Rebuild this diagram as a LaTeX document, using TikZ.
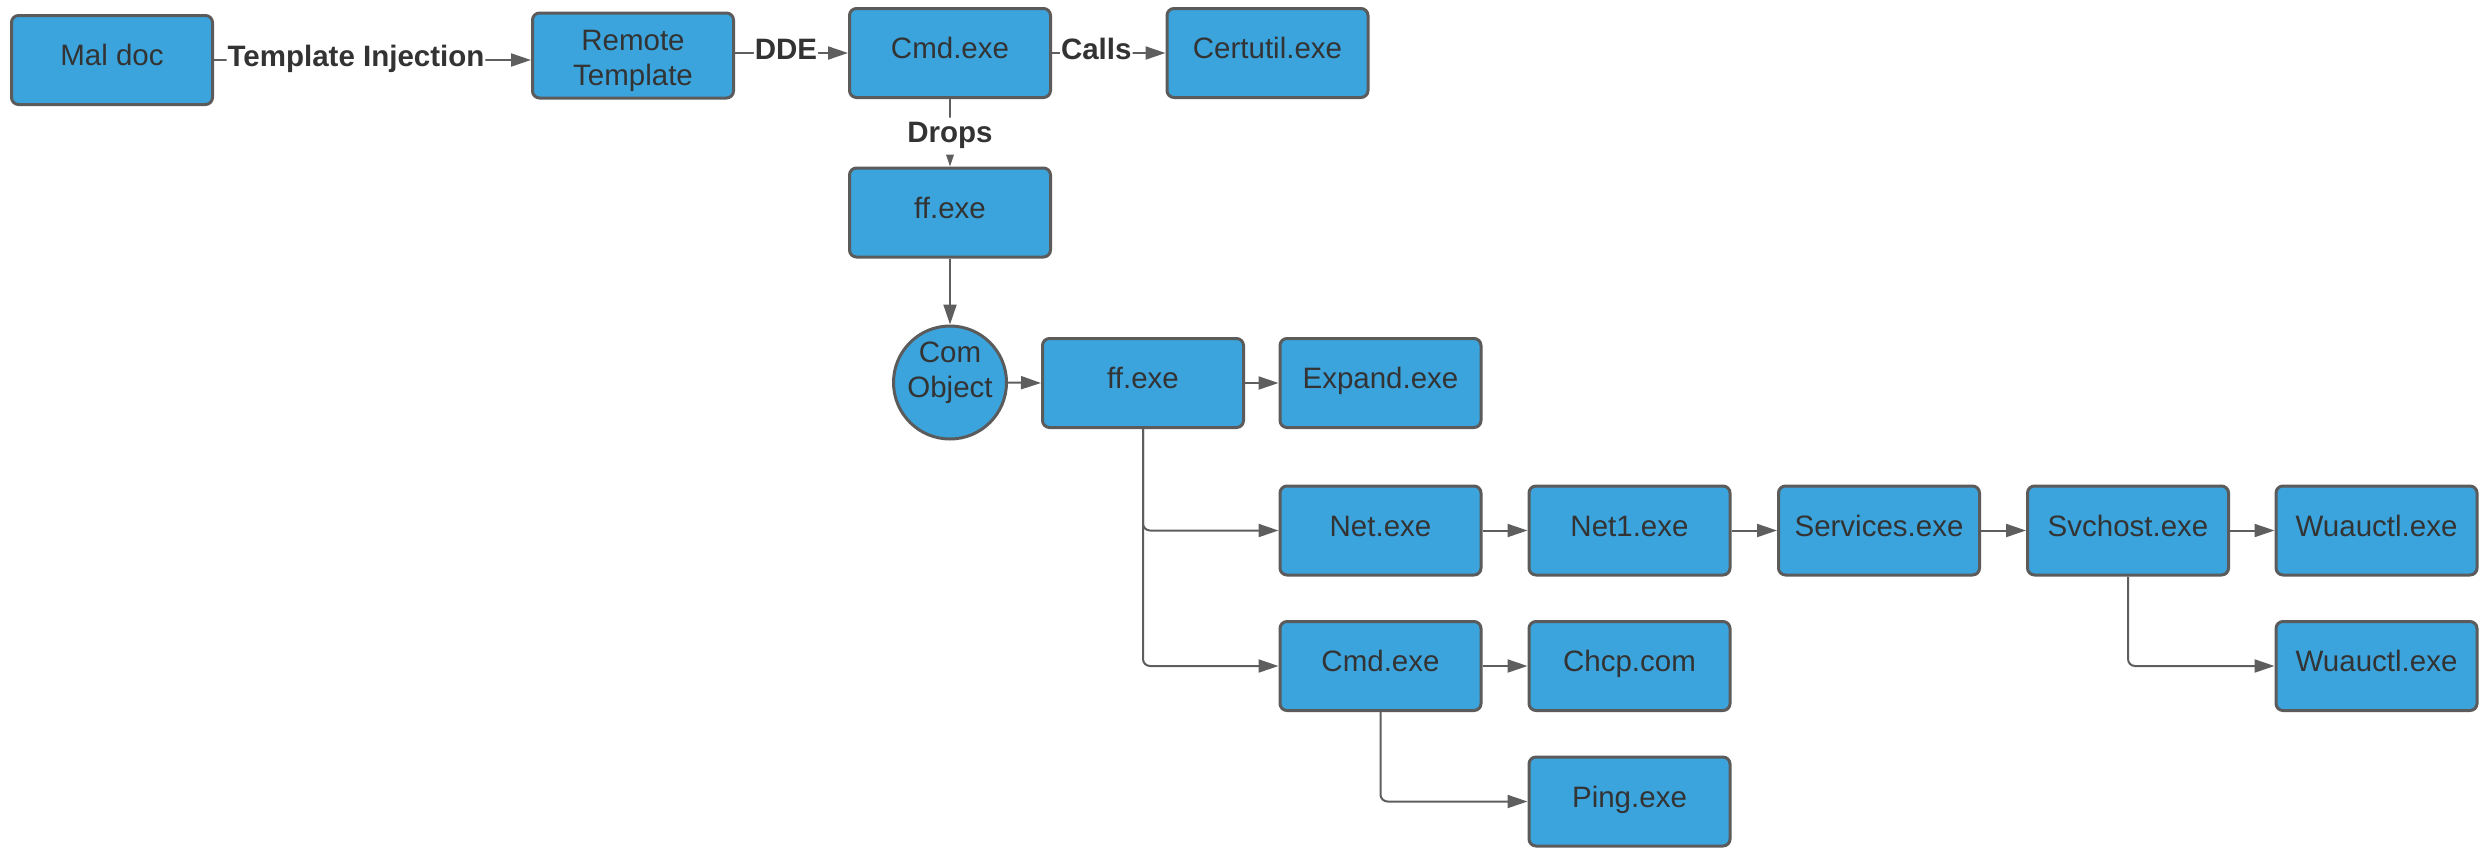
\documentclass[tikz,border=0pt]{standalone}
\usepackage{fontspec}
\setmainfont{Liberation Sans}
\usetikzlibrary{arrows.meta}

\definecolor{boxfill}{HTML}{3BA4DD}
\definecolor{boxline}{HTML}{5B5B5B}
\definecolor{wire}{HTML}{5E5E5E}
\definecolor{ink}{HTML}{333333}

\tikzset{
  basefont/.style={font=\fontsize{29.5}{35.5}\selectfont, text=ink},
  box/.style={basefont, draw=boxline, line width=3pt, fill=boxfill,
    rounded corners=7pt, minimum width=201pt, minimum height=89pt,
    inner sep=0pt, text height=21.1pt, text depth=10pt},
  comcircle/.style={basefont, circle, draw=boxline, line width=3pt,
    fill=boxfill, minimum size=113pt, inner sep=-4pt, text height=21.1pt},
  link/.style={draw=wire, line width=2pt, rounded corners=7pt,
    -{Triangle[length=20pt,width=13pt]}},
  tag/.style={font=\fontsize{29.5}{35.5}\selectfont\bfseries, text=ink,
    fill=white, inner xsep=1pt, inner ysep=4pt,
    text height=21.1pt, text depth=8pt},
}

\newcommand{\twolines}[2]{\begin{tabular}[t]{@{}c@{}}#1\\#2\end{tabular}}

\begin{document}
\begin{tikzpicture}[x=1pt, y=-1pt]
  \useasboundingbox (0,0) rectangle (2479,847);

  % top row
  \node[box] (mal) at (112,60) {Mal doc};
  \node[box, minimum height=85pt, text depth=32pt] (remote) at (633,55.5)
    {\twolines{Remote}{Template}};
  \node[box] (cmd1) at (950,53) {Cmd.exe};
  \node[box] (cert) at (1267.5,53) {Certutil.exe};

  % dropped payload and COM object
  \node[box] (ff1) at (950,212.5) {ff.exe};
  \node[comcircle, text depth=62pt] (com) at (950,382.5)
    {\twolines{Com}{Object}};
  \node[box] (ff2) at (1143,383) {ff.exe};
  \node[box] (expand) at (1380.5,383) {Expand.exe};

  % net chain
  \node[box] (net) at (1380.5,530.5) {Net.exe};
  \node[box] (net1) at (1629.5,530.5) {Net1.exe};
  \node[box] (services) at (1879,530.5) {Services.exe};
  \node[box] (svchost) at (2128,530.5) {Svchost.exe};
  \node[box] (wu1) at (2376.5,530.5) {Wuauctl.exe};

  % cmd chain
  \node[box] (cmd2) at (1380.5,666) {Cmd.exe};
  \node[box] (chcp) at (1629.5,666) {Chcp.com};
  \node[box] (wu2) at (2376.5,666) {Wuauctl.exe};
  \node[box] (ping) at (1629.5,801.5) {Ping.exe};

  % labelled connectors
  \draw[link] (mal.east) -- node[tag, pos=0.448] {Template Injection}
    (mal.east -| remote.west);
  \draw[link] (cmd1.west -| remote.east) -- node[tag, pos=0.451] {DDE}
    (cmd1.west);
  \draw[link] (cmd1.east) -- node[tag, pos=0.39] {Calls} (cert.west);
  \draw[link] (cmd1.south) -- node[tag, pos=0.55] {Drops} (ff1.north);

  % plain connectors
  \draw[link] (ff1.south) -- (com.north);
  \draw[link] (com.east) -- (ff2.west);
  \draw[link] (ff2.east) -- (expand.west);
  \draw[link] (ff2.south) |- (net.west);
  \draw[link] (ff2.south) |- (cmd2.west);
  \draw[link] (net.east) -- (net1.west);
  \draw[link] (net1.east) -- (services.west);
  \draw[link] (services.east) -- (svchost.west);
  \draw[link] (svchost.east) -- (wu1.west);
  \draw[link] (svchost.south) |- (wu2.west);
  \draw[link] (cmd2.east) -- (chcp.west);
  \draw[link] (cmd2.south) |- (ping.west);
\end{tikzpicture}
\end{document}
